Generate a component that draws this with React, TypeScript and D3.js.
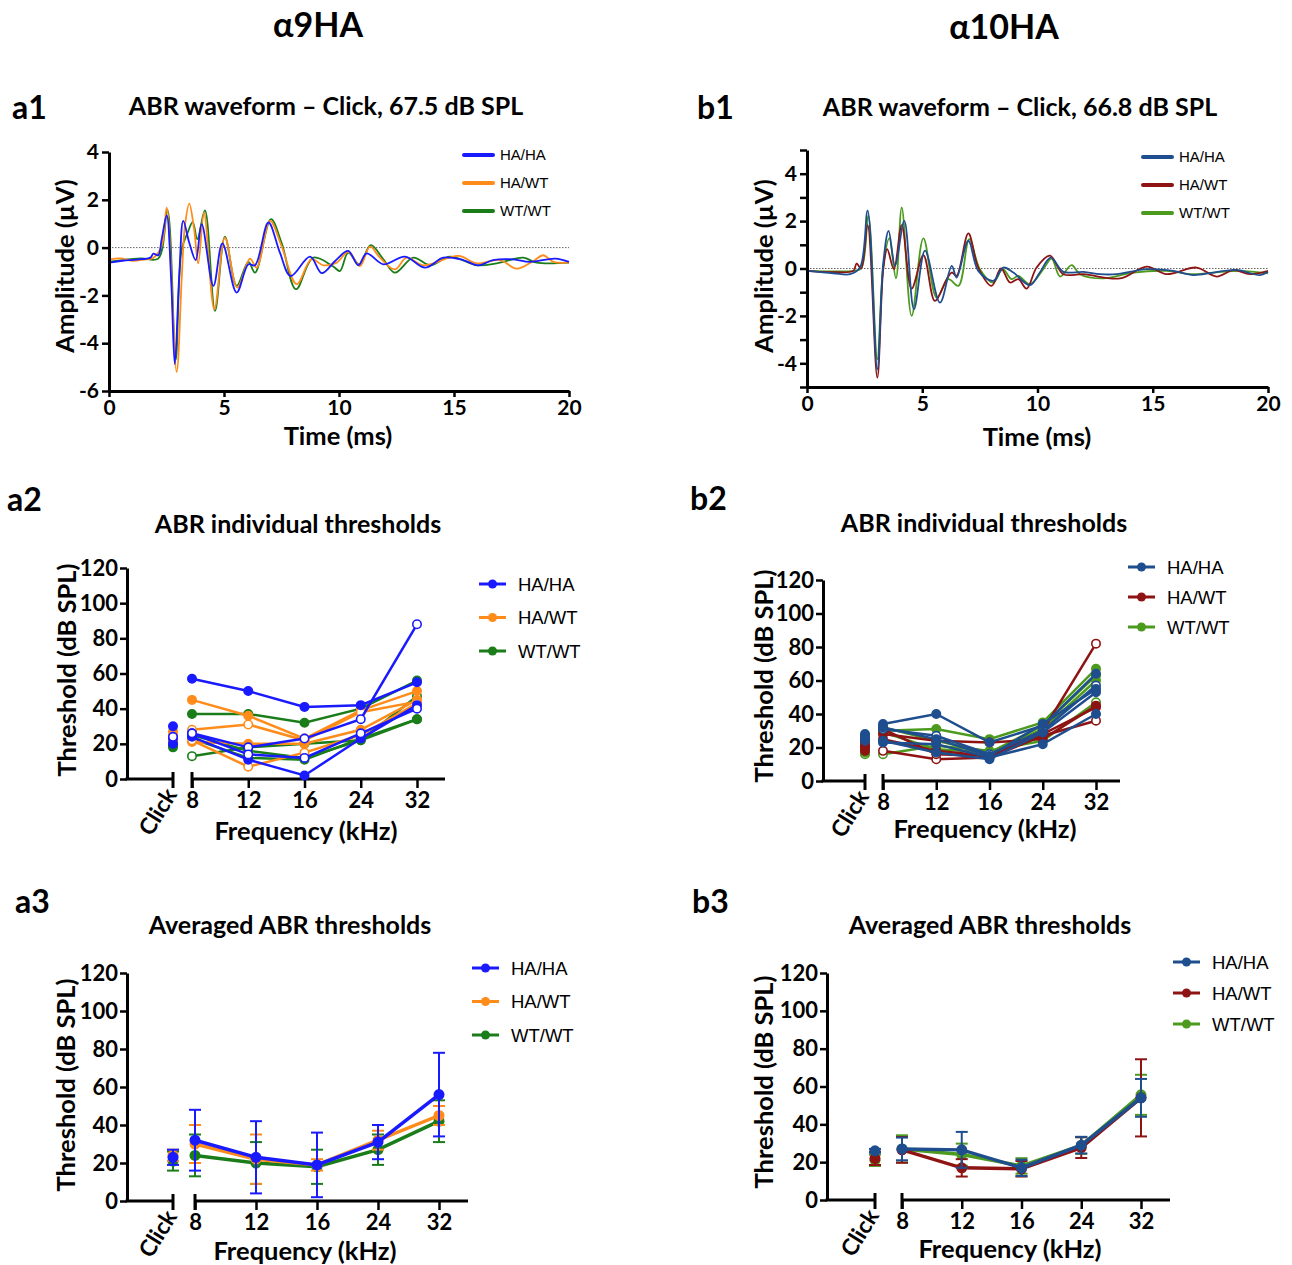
import React, { useEffect, useRef } from 'react';
import * as d3 from 'd3';

const FONT = 'Lato, "Open Sans", sans-serif';
const ARIAL = '"Liberation Sans", Arial, sans-serif';

const freqs = ['8', '12', '16', '24', '32'];
const genotypes = ['HA/HA', 'HA/WT', 'WT/WT'];
const colorsA = ['#1a1aff', '#ff8c1a', '#1a7d1a'];
const colorsB = ['#1f4e8f', '#8e1414', '#4c9a1e'];

// a1 waveforms, [time ms, amplitude uV]
const a1HAHA = [[0, -0.63], [0.6, -0.55], [1.2, -0.5], [1.8, -0.42], [1.93, -0.25], [2.14, -0.32], [2.29, 0.35], [2.51, 1.35], [2.7, -1.3], [2.86, -4.88], [3.06, -1.05], [3.23, 1.12], [3.49, 0.2], [3.77, -0.52], [4.03, 0.98], [4.54, -1.6], [4.93, 0.18], [5.55, -1.88], [6.06, -0.7], [6.35, -0.74], [6.93, 1.05], [7.43, -0.21], [7.9, -1.19], [8.74, -0.38], [9.25, -1.07], [9.83, -0.56], [10.4, -0.14], [10.84, -0.74], [11.2, -0.24], [11.93, -0.7], [12.87, -0.38], [13.74, -0.84], [14.54, -0.42], [15.4, -0.52], [16.06, -0.74], [16.7, -0.52], [17.58, -0.49], [18.3, -0.6], [19.4, -0.46], [20, -0.6]];
const a1HAWT = [[0, -0.5], [0.5, -0.45], [1.0, -0.55], [1.5, -0.5], [1.93, -0.42], [2.29, 0.07], [2.51, 1.67], [2.94, -5.2], [3.16, -1.32], [3.3, 0.9], [3.49, 1.84], [3.7, 0.77], [3.88, -0.66], [4.13, 1.46], [4.58, -2.58], [5.04, 0.42], [5.58, -1.67], [6.13, -0.46], [6.42, -0.84], [7.0, 1.12], [7.5, 0.07], [8.16, -1.53], [8.8, -0.49], [9.32, -0.74], [9.9, -0.63], [10.4, -0.18], [10.91, -0.77], [11.35, 0.04], [11.78, -0.42], [12.43, -0.91], [12.94, -0.42], [13.67, -0.74], [15.19, -0.35], [15.99, -0.66], [17.0, -0.52], [17.72, -0.88], [18.45, -0.56], [18.88, -0.32], [19.32, -0.6], [20, -0.63]];
const a1WTWT = [[0, -0.6], [0.7, -0.5], [1.4, -0.45], [2.14, -0.46], [2.54, 1.58], [2.9, -4.7], [3.16, -0.07], [3.41, 0.6], [3.64, 1.07], [3.84, 0.35], [4.17, 1.56], [4.61, -2.65], [5.04, 0.46], [5.55, -1.6], [6.06, -0.6], [6.35, -1.05], [7.04, 1.19], [7.5, 0.21], [8.13, -1.74], [8.88, -0.42], [9.75, -0.79], [10.04, -0.98], [10.4, -0.21], [10.88, -0.7], [11.38, 0.1], [11.93, -0.49], [12.43, -1.05], [13.23, -0.42], [13.96, -0.74], [14.83, -0.38], [15.99, -0.74], [16.86, -0.66], [18.01, -0.42], [18.59, -0.63], [20, -0.63]];

// b1 waveforms
const b1HAHA = [[0, -0.1], [1.14, -0.2], [1.87, -0.24], [2.3, 0.04], [2.63, 2.44], [3.05, -4.25], [3.31, 0.25], [3.54, 1.59], [3.82, 0.11], [4.22, 2.01], [4.64, -1.72], [5.12, 0.75], [5.77, -1.44], [6.28, 0.11], [6.49, -0.38], [7.0, 1.17], [7.43, -0.1], [8.08, -0.52], [8.52, 0.04], [8.95, -0.17], [9.67, -0.7], [10.1, -0.17], [10.57, 0.46], [11.12, -0.14], [11.99, -0.14], [12.71, -0.24], [13.43, -0.24], [14.74, -0.03], [15.89, -0.1], [16.76, -0.28], [17.63, -0.17], [18.64, -0.06], [19.65, -0.28], [20, -0.14]];
const b1HAWT = [[0, -0.1], [1.0, -0.15], [2.01, -0.1], [2.15, 0.21], [2.35, 0.0], [2.63, 1.83], [3.05, -4.6], [3.31, -0.02], [3.48, 0.82], [3.77, -0.03], [4.11, 1.83], [4.54, -0.85], [5.05, 0.56], [5.55, -1.37], [6.06, -0.45], [6.28, -0.17], [6.49, -0.31], [7.0, 1.48], [7.43, 0.04], [8.01, -0.73], [8.42, 0], [8.81, -0.59], [9.17, -0.45], [9.53, -0.85], [9.96, 0.04], [10.54, 0.54], [11.12, -0.24], [11.99, -0.24], [13.58, -0.42], [14.74, 0.08], [15.6, -0.24], [16.9, 0.04], [17.77, -0.34], [18.5, -0.07], [19.22, -0.24], [20, -0.1]];
const b1WTWT = [[0, -0.1], [1.0, -0.12], [2.0, -0.1], [2.35, 0.0], [2.66, 2.23], [3.05, -3.83], [3.31, 0.1], [3.57, 1.27], [3.86, -0.42], [4.11, 2.58], [4.54, -2.0], [5.05, 1.27], [5.63, -1.23], [6.13, -0.45], [6.57, -0.73], [7.04, 1.24], [7.5, -0.03], [8.08, -0.59], [8.49, -0.03], [8.88, -0.45], [9.17, -0.31], [9.67, -0.66], [10.25, -0.03], [10.61, 0.42], [10.98, -0.34], [11.48, 0.14], [11.84, -0.24], [12.86, -0.42], [14.16, -0.17], [15.6, -0.1], [16.76, -0.24], [17.92, -0.14], [18.79, -0.1], [20, -0.2]];

// a2 individual thresholds (dB SPL): click, then 8..32 kHz
const a2HAHA = [
  { click: 30, values: [57, 50, 41, 42, 55], open: false },
  { click: 23, values: [26, 18, 23, 34, 88], open: true },
  { click: 20, values: [24, 11, 2, 23, 42], open: false },
  { click: 24, values: [26, 14, 12, 26, 40], open: true },
];
const a2HAWT = [
  { click: 27, values: [45, 36, 23, 39, 50], open: false },
  { click: 24, values: [28, 31, 22, 38, 44], open: true },
  { click: 22, values: [21, 20, 20, 28, 45], open: false },
  { click: 25, values: [22, 7, 15, 25, 43], open: true },
];
const a2WTWT = [
  { click: 18, values: [37, 37, 32, 40, 56], open: false },
  { click: 21, values: [13, 18, 20, 22, 47], open: true },
  { click: 19, values: [23, 12, 11, 23, 34], open: false },
  { click: 20, values: [25, 16, 12, 22, 34], open: false },
];

// b2 individual thresholds
const b2HAHA = [
  { click: 27, values: [34, 40, 23, 33, 64], open: false },
  { click: 25, values: [31, 27, 16, 30, 57], open: true },
  { click: 28, values: [23, 22, 14, 22, 40], open: false },
  { click: 24, values: [24, 17, 13, 29, 53], open: false },
  { click: 26, values: [32, 25, 15, 34, 55], open: false },
];
const b2HAWT = [
  { click: 20, values: [18, 13, 14, 27, 36], open: true },
  { click: 23, values: [31, 16, 15, 30, 82], open: true },
  { click: 18, values: [28, 24, 23, 25, 45], open: false },
  { click: 21, values: [25, 18, 15, 28, 44], open: false },
];
const b2WTWT = [
  { click: 16, values: [16, 21, 18, 24, 47], open: true },
  { click: 19, values: [30, 31, 25, 35, 67], open: false },
  { click: 22, values: [29, 19, 17, 31, 60], open: false },
  { click: 17, values: [32, 24, 17, 33, 63], open: false },
];

// a3 averaged thresholds: click, 8, 12, 16, 24, 32 (mean, error)
const a3HAHAMean = [23, 32, 23, 19, 31, 56];
const a3HAHAErr = [4, 16, 19, 17, 9, 22];
const a3HAWTMean = [24, 30, 22, 19, 32, 45];
const a3HAWTErr = [3, 10, 13, 3, 5, 5];
const a3WTWTMean = [21, 24, 20, 18, 27, 42];
const a3WTWTErr = [5, 11, 11, 9, 8, 11];

// b3 averaged thresholds
const b3HAHAMean = [26, 27, 26.5, 17, 29, 54];
const b3HAHAErr = [1, 6, 9.5, 4.3, 4.4, 10];
const b3HAWTMean = [22, 26.5, 17, 16.5, 27.7, 54];
const b3HAWTErr = [3.5, 6.8, 4.6, 4.1, 5.5, 20.4];
const b3WTWTMean = [21, 27, 24, 18, 28.8, 55.6];
const b3WTWTErr = [3, 7.2, 5.8, 4.1, 4.4, 10.6];

const styleAxis = (a: any, size = 20) => {
  a.select('.domain').attr('stroke', '#000').attr('stroke-width', 3);
  a.selectAll('.tick line').attr('stroke', '#000').attr('stroke-width', 2.5);
  a.selectAll('text').attr('font-family', FONT).attr('font-size', size).attr('font-weight', 700).attr('fill', '#000');
};

const label = (svg: any, txt: string, x: number, y: number, size: number, anchor = 'middle', rot = 0) => {
  svg.append('text')
    .attr('transform', `translate(${x},${y}) rotate(${rot})`)
    .attr('text-anchor', anchor)
    .attr('font-family', FONT)
    .attr('font-weight', 700)
    .attr('font-size', size)
    .attr('fill', '#000')
    .text(txt);
};

const drawWave = (svg: any, cfg: any) => {
  const x = d3.scaleLinear().domain([0, 20]).range(cfg.xRange);
  const y = d3.scaleLinear().domain(cfg.yDomain).range(cfg.yRange);
  const g = svg.append('g');
  g.append('line').attr('x1', x(0)).attr('x2', x(20)).attr('y1', y(0)).attr('y2', y(0))
    .attr('stroke', '#666').attr('stroke-width', 1).attr('stroke-dasharray', '1.5,1.5');
  const line = d3.line<number[]>().x(d => x(d[0])).y(d => y(d[1])).curve(d3.curveCatmullRom.alpha(0.5));
  cfg.series.map((s: number[][], i: number) => ({ s, i })).reverse().forEach(({ s, i }: any) => {
    g.append('path').datum(s).attr('d', line).attr('fill', 'none').attr('stroke', cfg.colors[i]).attr('stroke-width', 1.8);
  });
  const ya = g.append('g').attr('transform', `translate(${cfg.xRange[0]},0)`)
    .call(d3.axisLeft(y).tickValues(cfg.yTicks).tickSize(7).tickSizeOuter(0)
      .tickFormat((d: any) => (cfg.yLabeled.includes(d) ? String(d) : '')));
  const xa = g.append('g').attr('transform', `translate(0,${cfg.yRange[0]})`)
    .call(d3.axisBottom(x).tickValues([0, 5, 10, 15, 20]).tickSize(6).tickSizeOuter(0).tickFormat((d: any) => String(d)));
  styleAxis(ya, 21);
  styleAxis(xa, 21);
  // legend
  genotypes.forEach((name, i) => {
    const ly = cfg.legend[1] + i * 28;
    g.append('line').attr('x1', cfg.legend[0]).attr('x2', cfg.legend[0] + 29).attr('y1', ly).attr('y2', ly)
      .attr('stroke', cfg.colors[i]).attr('stroke-width', 4).attr('stroke-linecap', 'round');
    g.append('text').attr('x', cfg.legend[0] + 36).attr('y', ly).attr('dy', '0.36em')
      .attr('font-family', ARIAL).attr('font-size', 15).attr('fill', '#000').text(name);
  });
};

const drawThreshAxes = (svg: any, cfg: any) => {
  const y = d3.scaleLinear().domain([0, 120]).range([cfg.y0, cfg.yTop]);
  const x = d3.scalePoint<string>().domain(freqs).range([cfg.x8, cfg.x32]);
  const g = svg.append('g');
  const ya = g.append('g').attr('transform', `translate(${cfg.axisX},0)`)
    .call(d3.axisLeft(y).tickValues(d3.range(0, 121, 20)).tickSize(7).tickSizeOuter(0).tickPadding(2));
  styleAxis(ya, 22);
  g.append('line').attr('x1', cfg.axisX - 1.5).attr('x2', cfg.clickX).attr('y1', cfg.y0).attr('y2', cfg.y0).attr('stroke', '#000').attr('stroke-width', 3);
  g.append('line').attr('x1', cfg.x8).attr('x2', cfg.xEnd).attr('y1', cfg.y0).attr('y2', cfg.y0).attr('stroke', '#000').attr('stroke-width', 3);
  [cfg.clickX, cfg.x8].forEach((cx: number) => {
    g.append('line').attr('x1', cx).attr('x2', cx).attr('y1', cfg.y0 - 7).attr('y2', cfg.y0 + 9).attr('stroke', '#000').attr('stroke-width', 3);
  });
  const xa = g.append('g').attr('transform', `translate(0,${cfg.y0})`)
    .call(d3.axisBottom(x).tickSize(9).tickPadding(4));
  styleAxis(xa, 22);
  xa.select('.domain').remove();
  g.append('text')
    .attr('transform', `translate(${cfg.clickX - 1},${cfg.y0 + 12}) rotate(-58)`)
    .attr('text-anchor', 'end').attr('dy', '0.3em')
    .attr('font-family', FONT).attr('font-weight', 700).attr('font-size', 23).attr('fill', '#000')
    .text('Click');
  return { x, y, g };
};

const threshLegend = (g: any, lx: number, ly: number, gap: number, colors: string[]) => {
  genotypes.forEach((name, i) => {
    const yy = ly + i * gap;
    g.append('line').attr('x1', lx).attr('x2', lx + 27).attr('y1', yy).attr('y2', yy)
      .attr('stroke', colors[i]).attr('stroke-width', 3);
    g.append('circle').attr('cx', lx + 13.5).attr('cy', yy).attr('r', 4.5).attr('fill', colors[i]);
    g.append('text').attr('x', lx + 39).attr('y', yy).attr('dy', '0.36em')
      .attr('font-family', ARIAL).attr('font-size', 18.5).attr('fill', '#000').text(name);
  });
};

const drawIndividual = (svg: any, cfg: any, groups: any[], colors: string[]) => {
  const { x, y, g } = drawThreshAxes(svg, cfg);
  const line = d3.line<number>().x((_, i) => x(freqs[i]) as number).y(d => y(d));
  groups.map((grp, i) => ({ grp, i })).reverse().forEach(({ grp, i }) => {
    grp.forEach((an: any) => {
      g.append('path').datum(an.values).attr('d', line).attr('fill', 'none').attr('stroke', colors[i]).attr('stroke-width', 2.5);
      const pts = [{ cx: cfg.clickX, v: an.click }, ...an.values.map((v: number, k: number) => ({ cx: x(freqs[k]), v }))];
      pts.forEach((p: any) => {
        g.append('circle').attr('cx', p.cx).attr('cy', y(p.v)).attr('r', 4.2)
          .attr('fill', an.open ? '#fff' : colors[i]).attr('stroke', colors[i]).attr('stroke-width', 1.6);
      });
    });
  });
  threshLegend(g, cfg.legend[0], cfg.legend[1], cfg.legend[2], colors);
};

const drawAverage = (svg: any, cfg: any, means: number[][], errs: number[][], colors: string[]) => {
  const { x, y, g } = drawThreshAxes(svg, cfg);
  const line = d3.line<number>().x((_, i) => x(freqs[i]) as number).y(d => y(d));
  means.map((m, i) => ({ m, i })).reverse().forEach(({ m, i }) => {
    const e = errs[i];
    const xs = [cfg.clickX, ...freqs.map(f => x(f) as number)];
    m.forEach((v, k) => {
      const cx = xs[k];
      g.append('line').attr('x1', cx).attr('x2', cx).attr('y1', y(v - e[k])).attr('y2', y(v + e[k])).attr('stroke', colors[i]).attr('stroke-width', 2);
      [v - e[k], v + e[k]].forEach(b => {
        g.append('line').attr('x1', cx - 6).attr('x2', cx + 6).attr('y1', y(b)).attr('y2', y(b)).attr('stroke', colors[i]).attr('stroke-width', 2);
      });
    });
    g.append('path').datum(m.slice(1)).attr('d', line).attr('fill', 'none').attr('stroke', colors[i]).attr('stroke-width', 3.5);
    m.forEach((v, k) => {
      g.append('circle').attr('cx', xs[k]).attr('cy', y(v)).attr('r', 5.5).attr('fill', colors[i]);
    });
  });
  threshLegend(g, cfg.legend[0], cfg.legend[1], cfg.legend[2], colors);
};

const App = () => {
  const ref = useRef<SVGSVGElement>(null);

  useEffect(() => {
    const svg = d3.select(ref.current);
    svg.selectAll('*').remove();

    // headers
    label(svg, 'α9HA', 318, 37, 34);
    label(svg, 'α10HA', 1004, 39, 34);
    label(svg, 'a1', 12, 119, 32, 'start');
    label(svg, 'b1', 697, 119, 32, 'start');
    label(svg, 'a2', 7, 511, 32, 'start');
    label(svg, 'b2', 690, 510, 32, 'start');
    label(svg, 'a3', 15, 913, 32, 'start');
    label(svg, 'b3', 692, 913, 32, 'start');

    label(svg, 'ABR waveform – Click, 67.5 dB SPL', 326, 115, 25);
    label(svg, 'ABR waveform – Click, 66.8 dB SPL', 1020, 116, 25);
    label(svg, 'ABR individual thresholds', 298, 533, 25);
    label(svg, 'ABR individual thresholds', 984, 532, 25);
    label(svg, 'Averaged ABR thresholds', 290, 934, 25);
    label(svg, 'Averaged ABR thresholds', 990, 934, 25);

    // axis titles
    label(svg, 'Amplitude (µV)', 74, 266, 25.5, 'middle', -90);
    label(svg, 'Time (ms)', 338, 445, 25.5);
    label(svg, 'Amplitude (µV)', 773, 266, 25.5, 'middle', -90);
    label(svg, 'Time (ms)', 1037, 446, 25.5);
    label(svg, 'Threshold (dB SPL)', 76, 670, 25.5, 'middle', -90);
    label(svg, 'Frequency (kHz)', 306, 840, 25.5);
    label(svg, 'Threshold (dB SPL)', 773, 676, 25.5, 'middle', -90);
    label(svg, 'Frequency (kHz)', 985, 838, 25.5);
    label(svg, 'Threshold (dB SPL)', 75, 1085, 25.5, 'middle', -90);
    label(svg, 'Frequency (kHz)', 305, 1260, 25.5);
    label(svg, 'Threshold (dB SPL)', 773, 1082, 25.5, 'middle', -90);
    label(svg, 'Frequency (kHz)', 1010, 1258, 25.5);

    drawWave(svg, {
      xRange: [109, 569], yRange: [391, 152], yDomain: [-6, 4],
      yTicks: [-6, -4, -2, 0, 2, 4], yLabeled: [-6, -4, -2, 0, 2, 4],
      series: [a1HAHA, a1HAWT, a1WTWT], colors: colorsA, legend: [464, 155],
    });
    drawWave(svg, {
      xRange: [807, 1268], yRange: [387, 150], yDomain: [-5, 5],
      yTicks: d3.range(-5, 6), yLabeled: [-4, -2, 0, 2, 4],
      series: [b1HAHA, b1HAWT, b1WTWT], colors: colorsB, legend: [1143, 157],
    });

    drawIndividual(svg, { axisX: 127, y0: 779, yTop: 568, clickX: 173, x8: 192, x32: 417, xEnd: 445, legend: [479, 584, 33.5] },
      [a2HAHA, a2HAWT, a2WTWT], colorsA);
    drawIndividual(svg, { axisX: 823, y0: 781, yTop: 580, clickX: 865, x8: 883, x32: 1096, xEnd: 1120, legend: [1128, 567, 30] },
      [b2HAHA, b2HAWT, b2WTWT], colorsB);
    drawAverage(svg, { axisX: 127, y0: 1201, yTop: 973, clickX: 173, x8: 195, x32: 439, xEnd: 468, legend: [472, 968, 33.5] },
      [a3HAHAMean, a3HAWTMean, a3WTWTMean], [a3HAHAErr, a3HAWTErr, a3WTWTErr], colorsA);
    drawAverage(svg, { axisX: 827, y0: 1200, yTop: 973, clickX: 875, x8: 902, x32: 1141, xEnd: 1170, legend: [1173, 962, 31] },
      [b3HAHAMean, b3HAWTMean, b3WTWTMean], [b3HAHAErr, b3HAWTErr, b3WTWTErr], colorsB);
  }, []);

  return (
    <svg ref={ref} width={1292} height={1265}
      style={{ position: 'absolute', left: 0, top: 0, background: '#fff', display: 'block' }} />
  );
};

export default App;
